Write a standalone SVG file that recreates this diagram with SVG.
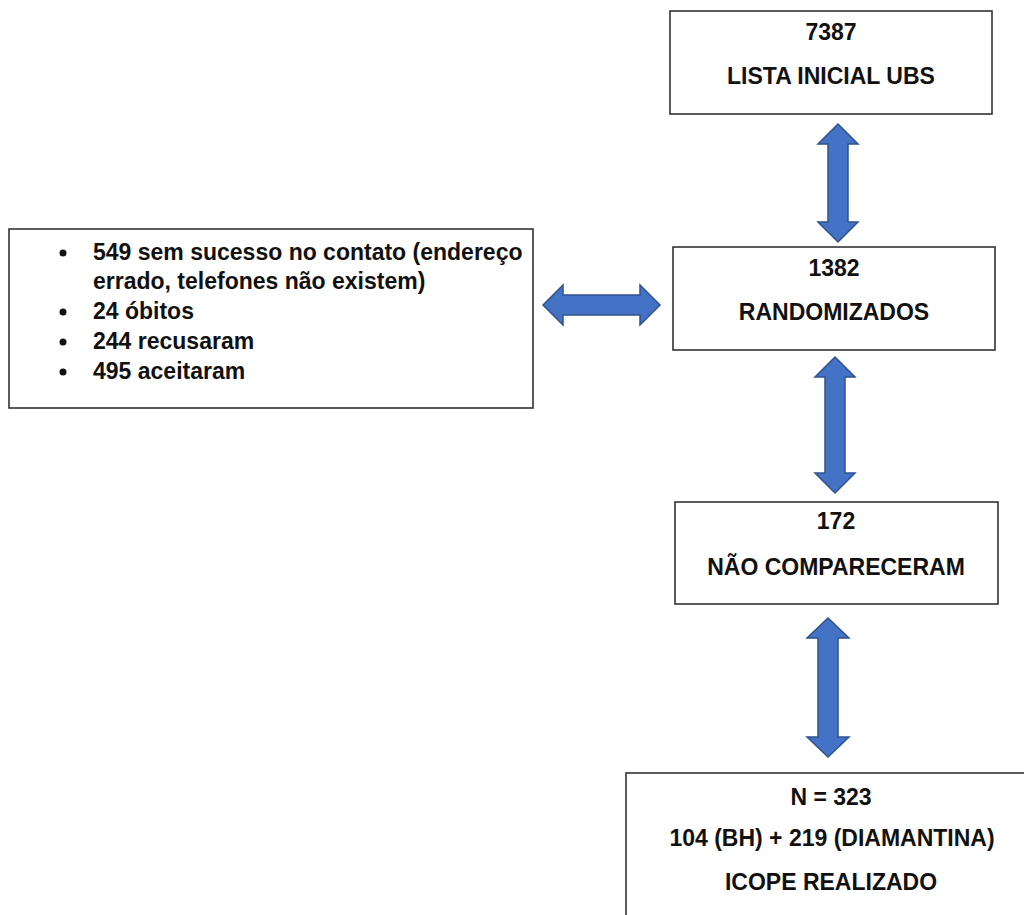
<svg xmlns="http://www.w3.org/2000/svg" width="1024" height="915" viewBox="0 0 1024 915">
<style>
.box{fill:#fff;stroke:#333;stroke-width:1.6}
.t{font-family:"Liberation Sans",Arial,sans-serif;font-weight:bold;font-size:23px;fill:#111}
.c{text-anchor:middle}
.arr{fill:#4472C4;stroke:#2F528F;stroke-width:1.5;stroke-linejoin:miter}
</style>
<rect width="1024" height="915" fill="#fff"/>
<g id="connectors">
<path class="arr" d="M838,124 L858,144 L848,144 L848,222 L858,222 L838,242 L818,222 L828,222 L828,144 L818,144 Z"/>
<path class="arr" d="M835,357 L855,377 L845,377 L845,473 L855,473 L835,493 L815,473 L825,473 L825,377 L815,377 Z"/>
<path class="arr" d="M828,618 L849,638 L838,638 L838,737 L849,737 L828,757 L807,737 L818,737 L818,638 L807,638 Z"/>
<path class="arr" d="M543,305 L563,285 L563,295 L640,295 L640,285 L660,305 L640,325 L640,315 L563,315 L563,325 Z"/>
</g>
<g id="lista">
<rect class="box" x="670" y="11" width="322" height="103"/>
<text class="t c" x="831" y="40">7387</text>
<text class="t c" x="831" y="84">LISTA INICIAL UBS</text>
</g>
<g id="randomizados">
<rect class="box" x="673" y="247" width="322" height="103"/>
<text class="t c" x="834" y="276">1382</text>
<text class="t c" x="834" y="320">RANDOMIZADOS</text>
</g>
<g id="detalhes">
<rect class="box" x="9" y="229" width="524" height="179"/>
<circle cx="63" cy="253" r="3.5" fill="#111"/>
<circle cx="63" cy="312" r="3.5" fill="#111"/>
<circle cx="63" cy="342" r="3.5" fill="#111"/>
<circle cx="63" cy="372" r="3.5" fill="#111"/>
<text class="t" x="93" y="260">549 sem sucesso no contato (endereço</text>
<text class="t" x="93" y="289">errado, telefones não existem)</text>
<text class="t" x="93" y="319">24 óbitos</text>
<text class="t" x="93" y="349">244 recusaram</text>
<text class="t" x="93" y="379">495 aceitaram</text>
</g>
<g id="naocompareceram">
<rect class="box" x="675" y="502" width="323" height="102"/>
<text class="t c" x="836" y="529">172</text>
<text class="t c" x="836" y="575">NÃO COMPARECERAM</text>
</g>
<g id="icope">
<rect class="box" x="626" y="773" width="420" height="160"/>
<text class="t c" x="831" y="805">N = 323</text>
<text class="t c" x="832" y="846">104 (BH) + 219 (DIAMANTINA)</text>
<text class="t c" x="831" y="890">ICOPE REALIZADO</text>
</g>
</svg>
